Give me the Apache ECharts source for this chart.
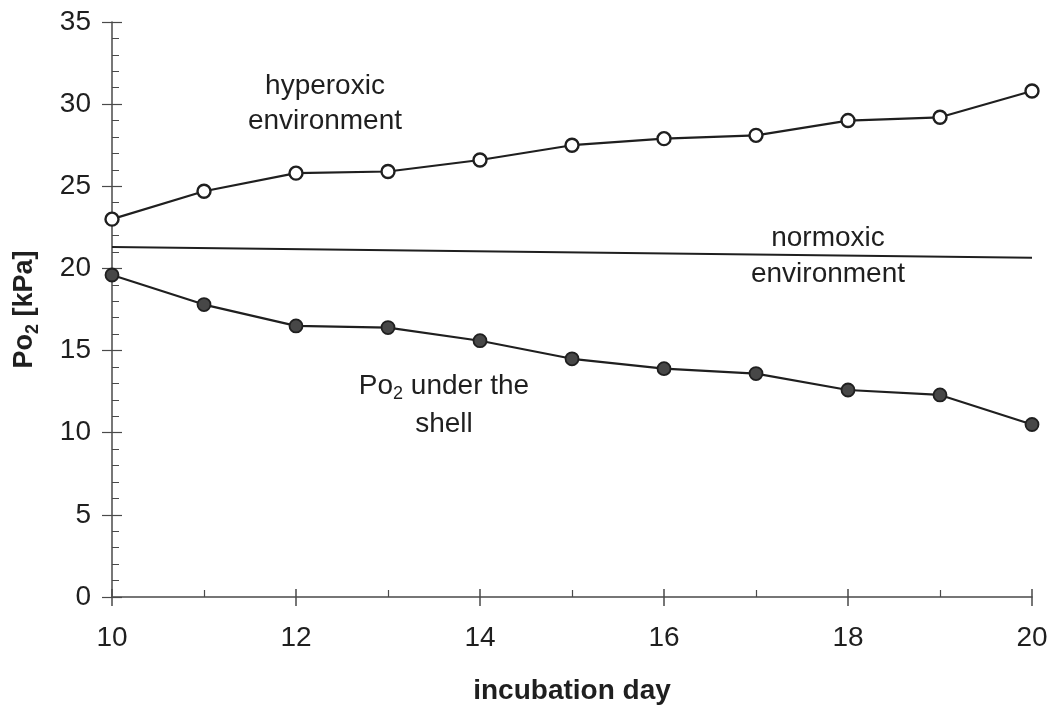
<!DOCTYPE html>
<html>
<head>
<meta charset="utf-8">
<script src="https://cdn.jsdelivr.net/npm/echarts@6/dist/echarts.min.js"></script>
<style>
  html, body { margin: 0; padding: 0; background: #fff; }
  #chart { width: 1053px; height: 710px; }
</style>
</head>
<body>
<div id="chart"></div>
<script>
// Incubation days (x) and measured oxygen partial pressures (kPa)
const days = [10, 11, 12, 13, 14, 15, 16, 17, 18, 19, 20];
const hyperoxicPo2 = [23.0, 24.7, 25.8, 25.9, 26.6, 27.5, 27.9, 28.1, 29.0, 29.2, 30.8];
const shellPo2 = [19.6, 17.8, 16.5, 16.4, 15.6, 14.5, 13.9, 13.6, 12.6, 12.3, 10.5];
const normoxicDays = [10, 20];
const normoxicPo2 = [21.3, 20.65];

// Axis ranges
const xRange = { min: 10, max: 20, step: 2 };
const yRange = { min: 0, max: 35, step: 5 };

const FONT = "'Liberation Sans', Arial, Helvetica, sans-serif";
const INK = '#1f1f1f';
const AXIS = '#4a4a4a';

const pairs = (xs, ys) => xs.map((x, i) => [x, ys[i]]);

const chart = echarts.init(document.getElementById('chart'), null, { renderer: 'canvas' });

const baseX = {
  type: 'value', min: xRange.min, max: xRange.max, interval: xRange.step,
  position: 'bottom', splitLine: { show: false }
};
const baseY = {
  type: 'value', min: yRange.min, max: yRange.max, interval: yRange.step,
  position: 'left', splitLine: { show: false }
};

chart.setOption({
  animation: false,
  backgroundColor: '#fff',
  grid: { left: 112, right: 21, top: 22, bottom: 110, containLabel: false },
  xAxis: [
    Object.assign({}, baseX, {
      axisLine: { show: true, lineStyle: { color: AXIS, width: 1.5 } },
      axisTick: { show: true, inside: false, length: 9, lineStyle: { color: AXIS, width: 1.5 } },
      minorTick: { show: false },
      axisLabel: { margin: 27, color: INK, fontSize: 28, fontFamily: FONT },
      name: 'incubation day',
      nameLocation: 'middle',
      nameGap: 80,
      nameTextStyle: { color: INK, fontSize: 28, fontWeight: 'bold', fontFamily: FONT }
    }),
    // inward half of the crossing ticks plus the odd-day minor ticks
    Object.assign({}, baseX, {
      axisLine: { show: false },
      axisTick: { show: true, inside: true, length: 8, lineStyle: { color: AXIS, width: 1.5 } },
      minorTick: { show: true, splitNumber: 2, length: 7, lineStyle: { color: AXIS, width: 1.2 } },
      axisLabel: { show: false }
    })
  ],
  yAxis: [
    Object.assign({}, baseY, {
      axisLine: { show: true, lineStyle: { color: AXIS, width: 1.5 } },
      axisTick: { show: true, inside: false, length: 10, lineStyle: { color: AXIS, width: 1.2 } },
      minorTick: { show: false },
      axisLabel: { margin: 21, color: INK, fontSize: 28, fontFamily: FONT },
      name: '{b|Po}{s|2}{b| [kPa]}',
      nameLocation: 'middle',
      nameRotate: 90,
      nameGap: 70,
      nameTextStyle: {
        color: INK, fontFamily: FONT,
        rich: {
          b: { fontSize: 27, fontWeight: 'bold', color: INK, fontFamily: FONT },
          s: { fontSize: 18, fontWeight: 'bold', color: INK, fontFamily: FONT, padding: [16, 0, 0, 0] }
        }
      }
    }),
    Object.assign({}, baseY, {
      axisLine: { show: false },
      axisTick: { show: true, inside: true, length: 10, lineStyle: { color: AXIS, width: 1.2 } },
      minorTick: { show: true, splitNumber: 5, length: 7, lineStyle: { color: AXIS, width: 1 } },
      axisLabel: { show: false }
    })
  ],
  series: [
    {
      name: 'normoxic environment',
      type: 'line',
      data: pairs(normoxicDays, normoxicPo2),
      showSymbol: false,
      symbol: 'none',
      lineStyle: { color: INK, width: 2 },
      z: 2
    },
    {
      name: 'hyperoxic environment',
      type: 'line',
      data: pairs(days, hyperoxicPo2),
      symbol: 'circle',
      symbolSize: 13,
      lineStyle: { color: INK, width: 2.2 },
      itemStyle: { color: '#fff', borderColor: INK, borderWidth: 2.4 },
      z: 3
    },
    {
      name: 'Po2 under the shell',
      type: 'line',
      data: pairs(days, shellPo2),
      symbol: 'circle',
      symbolSize: 13,
      lineStyle: { color: INK, width: 2.2 },
      itemStyle: { color: '#474747', borderColor: INK, borderWidth: 1.8 },
      z: 3
    }
  ],
  graphic: [
    {
      type: 'text', x: 325, y: 104,
      style: {
        text: 'hyperoxic\nenvironment',
        fill: INK, font: '28px ' + FONT, lineHeight: 35,
        align: 'center', verticalAlign: 'middle'
      }
    },
    {
      type: 'text', x: 828, y: 256,
      style: {
        text: 'normoxic\nenvironment',
        fill: INK, font: '28px ' + FONT, lineHeight: 36,
        align: 'center', verticalAlign: 'middle'
      }
    },
    {
      type: 'text', x: 444, y: 405,
      style: {
        text: '{a|Po}{s|2}{a| under the}\n{a|shell}',
        fill: INK, align: 'center', verticalAlign: 'middle',
        rich: {
          a: { fontSize: 28, fontFamily: FONT, lineHeight: 38, fill: INK },
          s: { fontSize: 18, fontFamily: FONT, padding: [16, 0, 0, 0], fill: INK }
        }
      }
    }
  ]
});
</script>
</body>
</html>
